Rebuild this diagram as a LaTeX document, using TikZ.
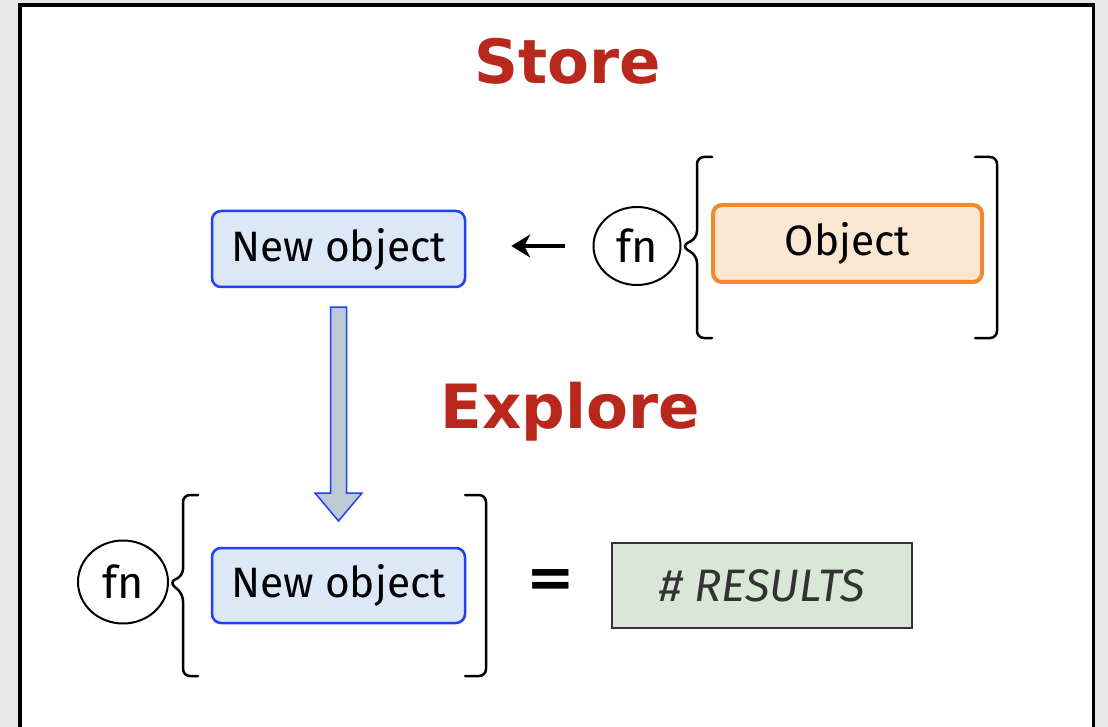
\documentclass[tikz,border=0pt]{standalone}
\usepackage{fontspec}
\setmainfont{Fira Sans}
\newfontfamily\titlefont{DejaVu Sans}
\usetikzlibrary{arrows.meta,shapes.geometric}

\definecolor{pagegrey}{HTML}{E8E8E8}
\definecolor{titlered}{HTML}{B8281D}
\definecolor{bluefill}{HTML}{DCE7F8}
\definecolor{blueline}{HTML}{1E3FF2}
\definecolor{orangefill}{HTML}{FBE6D1}
\definecolor{orangeline}{HTML}{F08A30}
\definecolor{greenfill}{HTML}{D9E8D6}
\definecolor{darkline}{HTML}{333333}
\definecolor{arrowfill}{HTML}{BFC9D3}

\tikzset{
  title/.style={font=\titlefont\bfseries\fontsize{61}{64}\selectfont, text=titlered, anchor=base, inner sep=0pt},
  label/.style={font=\fontsize{42.5}{48}\selectfont, inner sep=0pt},
  newbox/.style={label, draw=blueline, fill=bluefill, line width=2.5pt, rounded corners=9pt,
                 minimum width=253pt, minimum height=76pt},
  objbox/.style={label, draw=orangeline, fill=orangefill, line width=4pt, rounded corners=9pt,
                 minimum width=269pt, minimum height=77pt},
  resbox/.style={font=\itshape\fontsize{45.5}{50}\selectfont, text=darkline, inner sep=0pt,
                 draw=darkline, fill=greenfill, line width=2pt,
                 minimum width=300pt, minimum height=85pt},
  fnnode/.style={font=\fontsize{45}{50}\selectfont, inner sep=0pt, ellipse, draw, line width=2pt, fill=white},
  brk/.style={line width=2.5pt, rounded corners=7pt, line cap=round},
}

\begin{document}
\begin{tikzpicture}[x=1pt, y=-1pt]
  \useasboundingbox (0,0) rectangle (1108,727);
  \clip (0,0) rectangle (1108,727);

  % page and panel
  \fill[pagegrey] (0,0) rectangle (1108,727);
  \draw[line width=3.5pt, fill=white] (20,760) -- (20,5) -- (1093.5,5) -- (1093.5,760);

  % Store section
  \node[title] (store) at (568,84) {Store};
  \node[newbox] (newA) at (338.5,249) {New object};
  \node[fnnode, minimum width=87pt, minimum height=78pt] (fnA) at (637,246) {fn};
  \node[objbox] (objA) at (847.5,243.5) {Object};

  \draw[brk] (712,157) -- (697,157) -- (697,238) -- (fnA.east) -- (697,256) -- (697,338) -- (712,338);
  \draw[brk] (975,157) -- (997,157) -- (997,338) -- (975,338);

  \draw[line width=3.5pt, -{Stealth[length=19pt, width=23pt, inset=6pt]},
        shorten <=28pt, shorten >=45pt] (fnA.west) -- (newA.east |- fnA.west);

  % transition arrow
  \draw[draw=blueline, fill=arrowfill, line width=1.5pt, line join=miter]
    (330.5,307) -- (346.5,307) -- (346.5,493) -- (362,493) -- (338.5,521)
    -- (315,493) -- (330.5,493) -- cycle;

  % Explore section
  \node[title] (explore) at (570,428) {Explore};
  \node[fnnode, minimum width=90pt, minimum height=83pt] (fnB) at (123,582) {fn};
  \node[newbox, minimum height=75pt] (newB) at (338.5,585.5) {New object};

  \draw[brk] (198,495) -- (183,495) -- (183,576) -- (fnB.east) -- (183,594) -- (183,676) -- (198,676);
  \draw[brk] (465,495) -- (486,495) -- (486,676) -- (465,676);

  \node[font=\titlefont\bfseries\fontsize{58}{60}\selectfont, inner sep=0pt] (eq) at (551,584) {=};
  \node[resbox] (res) at (762,585.5) {\# RESULTS};
\end{tikzpicture}
\end{document}
